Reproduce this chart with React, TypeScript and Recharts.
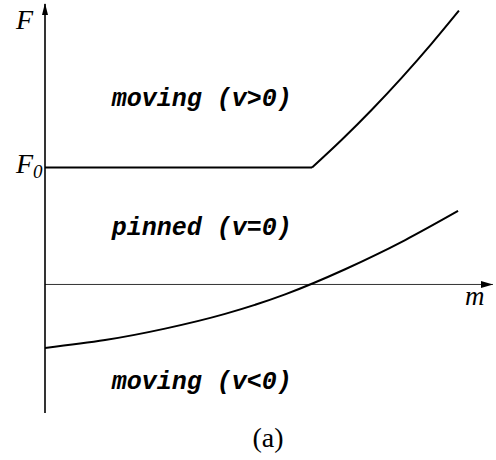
import React from 'react';
import { LineChart, Line, XAxis, YAxis, ReferenceLine, ReferenceDot } from 'recharts';

// Threshold force F0 (flat part) then growth: upper boundary of pinned region
const upperFlatM = [0, 5.96];
const upperFlatF = [1, 1];
const upperCurveM = [5.96, 6.63, 7.3, 7.97, 8.64, 9.24];
const upperCurveF = [1, 1.24, 1.497, 1.772, 2.065, 2.343];
// Lower boundary of pinned region
const lowerM = [0, 1.34, 2.68, 4.02, 5.36, 6.7, 8.04, 9.22];
const lowerF = [-0.543, -0.476, -0.378, -0.252, -0.085, 0.13, 0.38, 0.629];

const regionLabels = ['moving (v>0)', 'pinned (v=0)', 'moving (v<0)'];
const regionM = [3.5, 3.5, 3.5];
const regionF = [1.587, 0.483, -0.843];

const X_DOMAIN: [number, number] = [0, 10];
const Y_DOMAIN: [number, number] = [-1.1, 2.4];

const toRows = (xs: number[], ys: number[]) => xs.map((m, i) => ({ m, F: ys[i] }));

const upperFlat = toRows(upperFlatM, upperFlatF);
const upperCurve = toRows(upperCurveM, upperCurveF);
const lower = toRows(lowerM, lowerF);

const mono = '"Liberation Mono", "DejaVu Sans Mono", monospace';
const serif = '"Liberation Serif", "DejaVu Serif", serif';

export default function App() {
  return (
    <div style={{ position: 'absolute', left: 0, top: 0, width: 496, height: 460, background: '#fff' }}>
      <LineChart
        width={496}
        height={460}
        margin={{ top: 4, right: 3, bottom: 47, left: 45 }}
      >
        <XAxis type="number" dataKey="m" domain={X_DOMAIN} hide allowDataOverflow />
        <YAxis type="number" dataKey="F" domain={Y_DOMAIN} hide allowDataOverflow />
        <ReferenceLine y={0} stroke="#333" strokeWidth={1} />
        <ReferenceLine x={0} stroke="#000" strokeWidth={1.6} />
        <ReferenceDot
          x={X_DOMAIN[1]}
          y={0}
          r={0}
          ifOverflow="visible"
          shape={(p: any) => (
            <path d={`M${p.cx},${p.cy} L${p.cx - 12},${p.cy - 3.5} L${p.cx - 12},${p.cy + 3.5} Z`} fill="#000" />
          )}
        />
        <ReferenceDot
          x={0}
          y={Y_DOMAIN[1]}
          r={0}
          ifOverflow="visible"
          shape={(p: any) => (
            <path d={`M${p.cx},${p.cy - 1} L${p.cx - 3},${p.cy + 11} L${p.cx + 3},${p.cy + 11} Z`} fill="#000" />
          )}
        />
        <Line data={upperFlat} dataKey="F" type="linear" stroke="#000" strokeWidth={2} dot={false} isAnimationActive={false} />
        <Line data={upperCurve} dataKey="F" type="monotone" stroke="#000" strokeWidth={2} dot={false} isAnimationActive={false} />
        <Line data={lower} dataKey="F" type="monotone" stroke="#000" strokeWidth={2} dot={false} isAnimationActive={false} />
        {regionLabels.map((t, i) => (
          <ReferenceDot
            key={t}
            x={regionM[i]}
            y={regionF[i]}
            r={0}
            ifOverflow="visible"
            shape={(p: any) => (
              <text
                x={p.cx}
                y={p.cy}
                textAnchor="middle"
                dominantBaseline="central"
                fontFamily={mono}
                fontWeight="bold"
                fontStyle="italic"
                fontSize={25}
                fill="#000"
              >
                {t}
              </text>
            )}
          />
        ))}
        <ReferenceDot
          x={0}
          y={Y_DOMAIN[1]}
          r={0}
          ifOverflow="visible"
          shape={(p: any) => (
            <text x={p.cx - 29} y={p.cy + 25} fontFamily={serif} fontStyle="italic" fontSize={28} fill="#000">F</text>
          )}
        />
        <ReferenceDot
          x={0}
          y={1}
          r={0}
          ifOverflow="visible"
          shape={(p: any) => (
            <text x={p.cx - 29} y={p.cy + 5} fontFamily={serif} fontStyle="italic" fontSize={28} fill="#000">
              F<tspan fontSize={19} dy={5}>0</tspan>
            </text>
          )}
        />
        <ReferenceDot
          x={X_DOMAIN[1]}
          y={0}
          r={0}
          ifOverflow="visible"
          shape={(p: any) => (
            <text x={p.cx - 28} y={p.cy + 21} fontFamily={serif} fontStyle="italic" fontSize={27} fill="#000">m</text>
          )}
        />
      </LineChart>
      <div
        style={{
          position: 'absolute',
          left: 0,
          width: 536,
          top: 422,
          textAlign: 'center',
          fontFamily: serif,
          fontSize: 28,
          lineHeight: '32px',
          color: '#000',
        }}
      >
        (a)
      </div>
    </div>
  );
}
